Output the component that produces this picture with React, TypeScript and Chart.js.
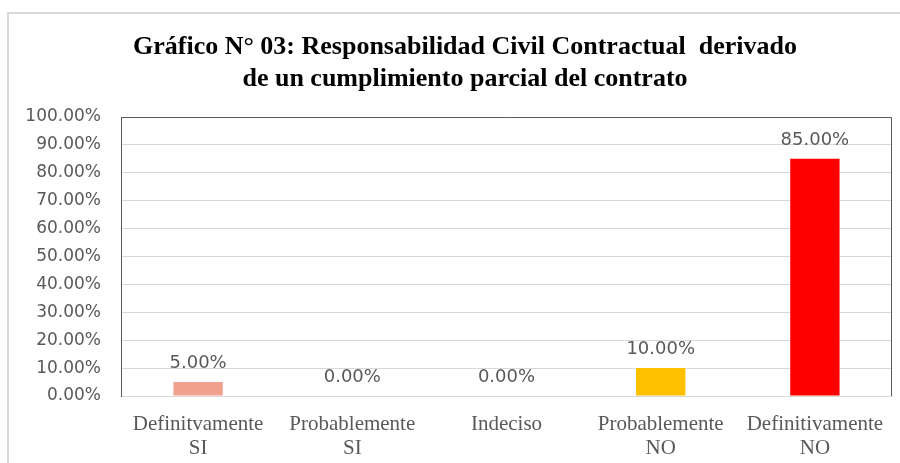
import React, { useEffect, useRef } from "react";
import { Chart, registerables } from "chart.js";

Chart.register(...registerables);

const categories: string[][] = [
  ["Definitvamente", "SI"],
  ["Probablemente", "SI"],
  ["Indeciso"],
  ["Probablemente", "NO"],
  ["Definitivamente", "NO"],
];
const values: number[] = [5, 0, 0, 10, 85];
const barColors: string[] = ["#F19F8F", "#F19F8F", "#F19F8F", "#FFC000", "#FF0000"];
const titleLines: string[] = [
  "Gráfico N° 03: Responsabilidad Civil Contractual  derivado",
  "de un cumplimiento parcial del contrato",
];

const framePlugin = {
  id: "frame",
  beforeDraw(chart: any) {
    const ctx = chart.ctx;
    ctx.save();
    ctx.fillStyle = "#ffffff";
    ctx.fillRect(0, 0, chart.width, chart.height);
    ctx.strokeStyle = "#D9D9D9";
    ctx.lineWidth = 2;
    ctx.beginPath();
    ctx.moveTo(8, chart.height);
    ctx.lineTo(8, 13);
    ctx.lineTo(chart.width, 13);
    ctx.stroke();
    ctx.fillStyle = "#000000";
    ctx.font = "bold 26px 'Liberation Serif'";
    ctx.textAlign = "center";
    ctx.textBaseline = "alphabetic";
    ctx.fillText(titleLines[0], 465, 54);
    ctx.fillText(titleLines[1], 465, 86);
    ctx.restore();
  },
  afterDraw(chart: any) {
    const { ctx, chartArea } = chart;
    ctx.save();
    ctx.strokeStyle = "#595959";
    ctx.lineWidth = 1;
    ctx.beginPath();
    ctx.moveTo(chartArea.left + 0.5, chartArea.top + 0.5);
    ctx.lineTo(chartArea.right - 0.5, chartArea.top + 0.5);
    ctx.lineTo(chartArea.right - 0.5, chartArea.bottom);
    ctx.stroke();
    ctx.restore();
  },
};

const labelPlugin = {
  id: "barLabels",
  afterDatasetsDraw(chart: any) {
    const ctx = chart.ctx;
    const meta = chart.getDatasetMeta(0);
    ctx.save();
    ctx.fillStyle = "#595959";
    ctx.font = "18px 'DejaVu Sans'";
    ctx.textAlign = "center";
    ctx.textBaseline = "alphabetic";
    meta.data.forEach((bar: any, i: number) => {
      ctx.fillText(values[i].toFixed(2) + "%", bar.x, bar.y - 14);
    });
    ctx.restore();
  },
};

export default function App() {
  const ref = useRef<HTMLCanvasElement | null>(null);
  useEffect(() => {
    document.body.style.margin = "0";
    const chart = new Chart(ref.current as HTMLCanvasElement, {
      type: "bar",
      data: {
        labels: categories,
        datasets: [
          {
            data: values,
            backgroundColor: barColors,
            barPercentage: 0.64,
            categoryPercentage: 0.5,
          },
        ],
      },
      options: {
        animation: false,
        responsive: false,
        layout: { padding: { top: 117, right: 8, left: 0, bottom: 0 } },
        plugins: {
          legend: { display: false },
          title: { display: false },
          tooltip: { enabled: false },
        },
        scales: {
          x: {
            grid: { display: false, drawTicks: false },
            border: { color: "#D9D9D9", width: 1 },
            ticks: {
              color: "#595959",
              font: { family: "'Liberation Serif'", size: 21, lineHeight: 1.15 },
              padding: 16,
              maxRotation: 0,
              autoSkip: false,
            },
            afterFit(s: any) {
              s.height = 67;
            },
          },
          y: {
            min: 0,
            max: 100,
            grid: { color: "#D9D9D9", drawTicks: false },
            border: { color: "#595959", width: 1 },
            ticks: {
              stepSize: 10,
              color: "#595959",
              font: { family: "'DejaVu Sans'", size: 17 },
              padding: 20,
              callback: (v: any) => Number(v).toFixed(2) + "%",
            },
            afterFit(s: any) {
              s.width = 121;
            },
          },
        },
      },
      plugins: [framePlugin, labelPlugin],
    });
    return () => chart.destroy();
  }, []);
  return <canvas ref={ref} width={900} height={463} style={{ display: "block" }} />;
}
